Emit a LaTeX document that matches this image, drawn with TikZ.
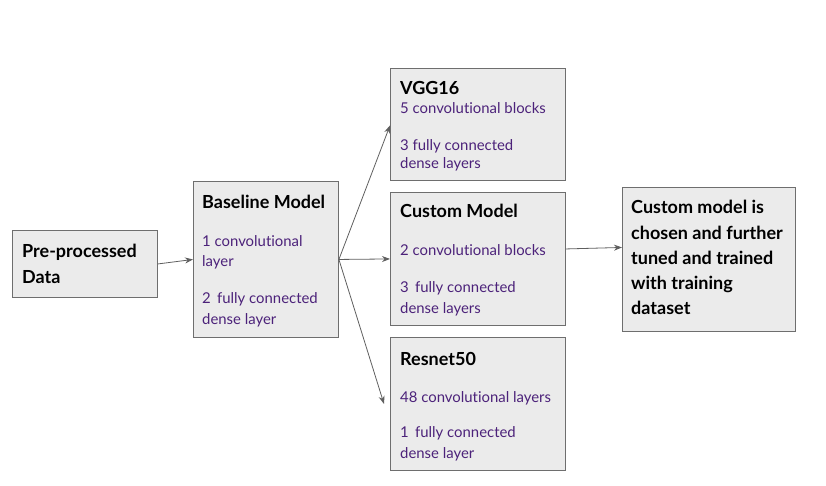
\documentclass[tikz,border=0pt]{standalone}
\usepackage{fontspec}
\setmainfont[Ligatures=NoCommon]{Lato}
\usetikzlibrary{arrows.meta}
\definecolor{boxfill}{RGB}{235,235,235}
\definecolor{boxline}{RGB}{110,110,110}
\definecolor{txtpurple}{RGB}{76,34,122}
\definecolor{arrgray}{RGB}{95,95,95}
\tikzset{
  box/.style={draw=boxline, fill=boxfill, line width=0.9pt, rectangle, inner sep=0pt, anchor=north west},
  ttl/.style={anchor=base west, inner sep=0pt, font=\fontsize{18}{21}\selectfont\bfseries, text=black},
  bodytxt/.style={anchor=base west, inner sep=0pt, font=\fontsize{14.9}{17}\selectfont, text=txtpurple},
  arr/.style={draw=arrgray, line width=0.8pt, -{Stealth[length=8pt,width=6pt]}}
}
\begin{document}
\begin{tikzpicture}[x=1pt,y=-1pt]
\useasboundingbox (0,0) rectangle (826,486);
% boxes
\node[box, minimum width=145pt, minimum height=67pt] (pre) at (12,230) {};
\node[box, minimum width=145pt, minimum height=156pt] (base) at (193,181) {};
\node[box, minimum width=175pt, minimum height=112pt] (vgg) at (390,68) {};
\node[box, minimum width=175pt, minimum height=133pt] (cust) at (390,192) {};
\node[box, minimum width=175pt, minimum height=133pt] (res) at (390,337) {};
\node[box, minimum width=173pt, minimum height=144pt] (fin) at (622,187) {};
% texts
\node[ttl] (t1) at (22,257) {Pre-processed};
\node[ttl] (t2) at (22,283) {Data};
\node[ttl] (t3) at (202,209) {Baseline Model};
\node[bodytxt] (t4) at (202,246) {1 convolutional};
\node[bodytxt] (t5) at (202,266) {layer};
\node[bodytxt] (t6) at (202,303) {2\, fully connected};
\node[bodytxt] (t7) at (202,324) {dense layer};
\node[ttl] (t8) at (400,95) {VGG16};
\node[bodytxt] (t9) at (400,114) {5 convolutional blocks};
\node[bodytxt] (t10) at (400,151) {3 fully connected};
\node[bodytxt] (t11) at (400,169) {dense layers};
\node[ttl] (t12) at (400,218) {Custom Model};
\node[bodytxt] (t13) at (400,255) {2 convolutional blocks};
\node[bodytxt] (t14) at (400,292) {3\, fully connected};
\node[bodytxt] (t15) at (400,313) {dense layers};
\node[ttl] (t16) at (400,365) {Resnet50};
\node[bodytxt] (t17) at (400,402) {48 convolutional layers};
\node[bodytxt] (t18) at (400,437) {1\, fully connected};
\node[bodytxt] (t19) at (400,458) {dense layer};
\node[ttl] (t20) at (631,214) {Custom model is};
\node[ttl] (t21) at (631,239) {chosen and further};
\node[ttl] (t22) at (631,264) {tuned and trained};
\node[ttl] (t23) at (631,289) {with training};
\node[ttl] (t24) at (631,314) {dataset};
% arrows
\draw[arr] (pre.east) -- (base.west);
\draw[arr] (base.east) -- ([yshift=-1pt]vgg.west);
\draw[arr] (base.east) -- (cust.west);
\draw[arr] (base.east) -- ([xshift=-6pt]res.west);
\draw[arr] ([yshift=10pt]cust.east) -- ([yshift=12pt]fin.west);
\end{tikzpicture}
\end{document}
